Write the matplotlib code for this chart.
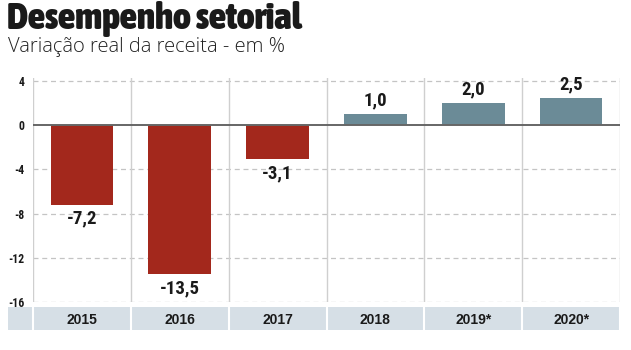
import matplotlib
matplotlib.use("Agg")
import matplotlib.pyplot as plt
from matplotlib.patches import Rectangle
from matplotlib import font_manager

years = ["2015", "2016", "2017", "2018", "2019*", "2020*"]
values = [-7.2, -13.5, -3.1, 1.0, 2.0, 2.5]
value_labels = ["-7,2", "-13,5", "-3,1", "1,0", "2,0", "2,5"]
yticks = [4, 0, -4, -8, -12, -16]

names = {f.name for f in font_manager.fontManager.ttflist}


def pick(prefs, default="DejaVu Sans"):
    for p in prefs:
        if p in names:
            return p
    return default


title_font = pick(["Asap Condensed", "Barlow Condensed", "Roboto Condensed", "Archivo Narrow"])
label_font = pick(["Roboto Condensed", "Asap Condensed", "Barlow Condensed", "Archivo Narrow", "Liberation Sans"])
cat_font = pick(["Liberation Sans", "Roboto"])
sub_font = pick(["Open Sans", "Lato"])

RED = "#a3281c"
BLUE = "#6b8b97"
BAND = "#d6dfe6"
INK = "#1a1a1a"

W, H = 631, 350
fig = plt.figure(figsize=(W / 100, H / 100), dpi=100)
fig.patch.set_facecolor("white")

x0, x1 = 33, 620
ytop, ybot = 78, 302
ax = fig.add_axes([x0 / W, 1 - ybot / H, (x1 - x0) / W, (ybot - ytop) / H])
ax.set_xlim(-0.5, len(years) - 0.5)
ax.set_ylim(-16, 4.27)

colors = [RED if v < 0 else BLUE for v in values]
xs = range(len(years))
ax.bar(xs, values, width=0.64, color=colors, zorder=3)

for y in yticks:
    if y != 0:
        ax.axhline(y, color="#c4c4c4", lw=0.9, ls=(0, (4, 3)), zorder=1)
ax.axhline(0, color="#666666", lw=1.4, zorder=4)
for i in range(len(years) + 1):
    ax.axvline(i - 0.5, color="#cfcfcf", lw=1.0, zorder=1)

for x, v, lab in zip(xs, values, value_labels):
    if v < 0:
        ax.text(x, v - 0.45, lab, ha="center", va="top", fontsize=13.5,
                fontweight="bold", family=label_font, color=INK, zorder=5)
    else:
        ax.text(x, v + 0.4, lab, ha="center", va="bottom", fontsize=13.5,
                fontweight="bold", family=label_font, color=INK, zorder=5)

ax.set_yticks(yticks)
ax.set_yticklabels([str(t) for t in yticks], fontsize=8.5, fontweight="bold",
                   family=label_font, color=INK)
ax.tick_params(axis="y", length=0, pad=6)
ax.set_xticks([])
for s in ax.spines.values():
    s.set_visible(False)

# category band
band_y0, band_y1 = 307, 330
bx = fig.add_axes([8 / W, 1 - band_y1 / H, (621 - 8) / W, (band_y1 - band_y0) / H])
bx.set_xlim(8, 621)
bx.set_ylim(0, 1)
bx.axis("off")
bx.add_patch(Rectangle((8, 0), 613, 1, color=BAND, lw=0))
col_w = (x1 - x0) / len(years)
for i in range(len(years) + 1):
    bx.axvline(x0 + i * col_w, color="white", lw=1.5)
for i, lab in enumerate(years):
    bx.text(x0 + (i + 0.5) * col_w, 0.45, lab, ha="center", va="center",
            fontsize=10, fontweight="bold", family=cat_font, color=INK)

fig.text(7 / W, 1 - 29 / H, "Desempenho setorial", ha="left", va="baseline",
         fontsize=27, fontweight="black", family=title_font, color=INK)
fig.text(8 / W, 1 - 52 / H, "Variação real da receita - em %", ha="left", va="baseline",
         fontsize=14.5, fontweight="light", family=sub_font, color="#222222")

fig.savefig("out.png", dpi=100, facecolor="white")
